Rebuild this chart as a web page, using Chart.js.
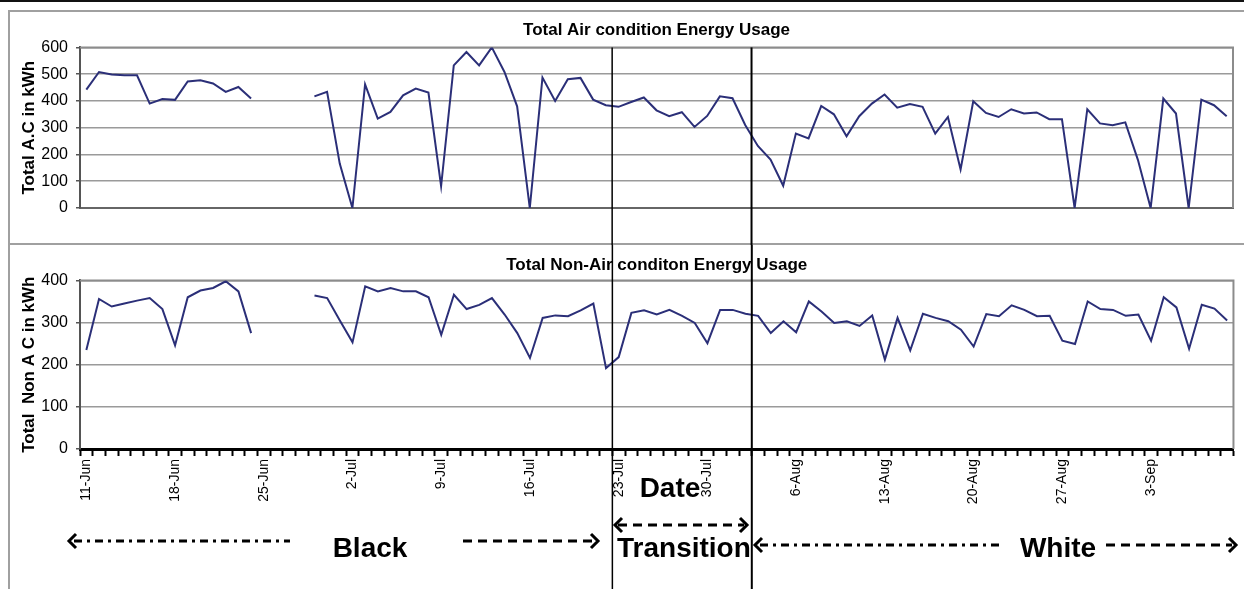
<!DOCTYPE html>
<html lang="en">
<head>
  <meta charset="UTF-8" />
  <title>Total Air condition / Non-Air condition Energy Usage</title>
  <script src="https://cdn.jsdelivr.net/npm/chart.js"></script>
  <style>
    html, body { margin: 0; padding: 0; background: #fff; }
    body { width: 1244px; height: 589px; position: relative; overflow: hidden;
           font-family: "Liberation Sans", Arial, sans-serif; }
    .topline { position: absolute; left: 0; top: 0; width: 1244px; height: 2px; background: #111; }
    .frame { position: absolute; left: 8px; top: 10px; width: 1300px; height: 700px;
             border-left: 2px solid #a0a0a0; border-top: 2px solid #a0a0a0; }
    .sep { position: absolute; left: 8px; top: 243px; width: 1236px; height: 2px; background: #a0a0a0; }
    canvas { position: absolute; left: 9px; }
    #acChart { top: 12px; }
    #nonAcChart { top: 245px; }
    svg.notes { position: absolute; left: 0; top: 0; }
  </style>
</head>
<body>
  <div class="topline"></div>
  <div class="frame"></div>
  <div class="sep"></div>
  <canvas id="acChart" width="1235" height="233"></canvas>
  <canvas id="nonAcChart" width="1238" height="344"></canvas>

  <svg class="notes" width="1244" height="589" font-family="Liberation Sans, Arial, sans-serif">
    <g stroke="#000" stroke-width="3" fill="none">
      <!-- Black -->
      <line x1="74" y1="541" x2="290" y2="541" stroke-dasharray="8 5 3 5" />
      <polyline points="76,534 69,541 76,548" />
      <line x1="463" y1="541" x2="594" y2="541" stroke-dasharray="9 6" />
      <polyline points="591,534 598,541 591,548" />
      <!-- Transition -->
      <line x1="618" y1="525" x2="744" y2="525" stroke-dasharray="9 6" />
      <polyline points="622,518 615,525 622,532" />
      <polyline points="740,518 747,525 740,532" />
      <!-- White -->
      <line x1="760" y1="545" x2="1000" y2="545" stroke-dasharray="8 5 3 5" />
      <polyline points="762,538 755,545 762,552" />
      <line x1="1106" y1="545" x2="1232" y2="545" stroke-dasharray="9 6" />
      <polyline points="1229,538 1236,545 1229,552" />
    </g>
    <g font-size="28" font-weight="bold" fill="#000">
      <text x="670" y="497" text-anchor="middle">Date</text>
      <text x="370" y="557" text-anchor="middle">Black</text>
      <text x="617" y="557">Transition</text>
      <text x="1058" y="557" text-anchor="middle">White</text>
    </g>
  </svg>

  <script>
    // daily categories, 11-Jun .. 9-Sep
    const dates = [
      '11-Jun','12-Jun','13-Jun','14-Jun','15-Jun','16-Jun','17-Jun','18-Jun','19-Jun','20-Jun',
      '21-Jun','22-Jun','23-Jun','24-Jun','25-Jun','26-Jun','27-Jun','28-Jun','29-Jun','30-Jun',
      '1-Jul','2-Jul','3-Jul','4-Jul','5-Jul','6-Jul','7-Jul','8-Jul','9-Jul','10-Jul',
      '11-Jul','12-Jul','13-Jul','14-Jul','15-Jul','16-Jul','17-Jul','18-Jul','19-Jul','20-Jul',
      '21-Jul','22-Jul','23-Jul','24-Jul','25-Jul','26-Jul','27-Jul','28-Jul','29-Jul','30-Jul','31-Jul',
      '1-Aug','2-Aug','3-Aug','4-Aug','5-Aug','6-Aug','7-Aug','8-Aug','9-Aug','10-Aug',
      '11-Aug','12-Aug','13-Aug','14-Aug','15-Aug','16-Aug','17-Aug','18-Aug','19-Aug','20-Aug',
      '21-Aug','22-Aug','23-Aug','24-Aug','25-Aug','26-Aug','27-Aug','28-Aug','29-Aug','30-Aug','31-Aug',
      '1-Sep','2-Sep','3-Sep','4-Sep','5-Sep','6-Sep','7-Sep','8-Sep','9-Sep'
    ];

    const tickDates = ['11-Jun','18-Jun','25-Jun','2-Jul','9-Jul','16-Jul','23-Jul',
                       '30-Jul','6-Aug','13-Aug','20-Aug','27-Aug','3-Sep'];

    // first day of the Transition and White periods
    const phaseStarts = ['23-Jul', '3-Aug'];

    // kWh per day, null = no reading
    const acUsage = [
      442,508,499,496,496,390,407,404,473,477,465,434,452,409,null,null,null,null,417,434,
      166,0,462,334,359,421,446,431,82,533,583,533,600,508,380,0,487,400,481,486,
      405,384,378,396,413,365,343,358,303,344,417,410,310,232,181,83,278,260,381,350,
      268,343,390,424,375,388,378,278,340,144,399,355,340,369,353,357,332,332,0,369,
      316,309,320,179,0,409,353,0,405,384,343
    ];

    const nonAcUsage = [
      235,356,338,345,352,358,332,246,360,376,382,398,374,275,null,null,null,null,364,358,
      305,253,386,374,382,374,374,360,271,366,332,342,358,319,275,216,311,317,315,329,
      345,192,218,323,329,319,330,316,299,251,330,330,321,316,275,303,277,350,326,299,
      303,292,317,212,311,234,321,311,303,283,243,320,315,341,330,315,316,257,249,350,
      332,330,316,319,257,360,336,238,342,333,305
    ];

    Chart.defaults.font.family = '"Liberation Sans", Arial, sans-serif';
    Chart.defaults.color = '#000';

    const lineColor = '#2b2f78';

    // grey frame along top and right of the plot area
    const plotFrame = {
      id: 'plotFrame',
      beforeDatasetsDraw(chart) {
        const { ctx, chartArea: a } = chart;
        ctx.save();
        ctx.strokeStyle = '#8c8c8c';
        ctx.lineWidth = 2;
        ctx.beginPath();
        ctx.moveTo(a.left, a.top);
        ctx.lineTo(a.right, a.top);
        ctx.lineTo(a.right, a.bottom);
        ctx.stroke();
        ctx.restore();
      }
    };

    // black vertical lines at the start of each period
    const phaseLines = {
      id: 'phaseLines',
      afterDraw(chart, args, opts) {
        const { ctx } = chart;
        const xs = chart.scales.x;
        const widths = [1.5, 2];
        ctx.save();
        ctx.strokeStyle = '#000';
        phaseStarts.forEach((d, k) => {
          const i = dates.indexOf(d);
          const x = (xs.getPixelForValue(i - 1) + xs.getPixelForValue(i)) / 2;
          ctx.lineWidth = widths[k];
          ctx.beginPath();
          ctx.moveTo(x, opts.fromTop ? 0 : chart.chartArea.top);
          ctx.lineTo(x, chart.height);
          ctx.stroke();
        });
        ctx.restore();
      }
    };

    function yAxis(max, title) {
      return {
        min: 0,
        max: max,
        ticks: { stepSize: 100, font: { size: 16 }, padding: 8 },
        grid: { color: '#9a9a9a', lineWidth: 1.5, tickLength: 4, tickColor: '#555' },
        border: { color: '#555', width: 2 },
        title: {
          display: true,
          text: title,
          font: { size: 17, weight: 'bold' },
          padding: { top: 10, bottom: 0 }
        },
        afterFit(s) { s.width = 71; }
      };
    }

    function baseOptions(title, titlePad) {
      return {
        responsive: false,
        animation: false,
        devicePixelRatio: 1,
        plugins: {
          legend: { display: false },
          tooltip: { enabled: false },
          title: {
            display: true,
            text: title,
            fullSize: false,
            font: { size: 17, weight: 'bold' },
            padding: titlePad
          }
        }
      };
    }

    // top chart: air conditioning
    const acOpts = baseOptions('Total Air condition Energy Usage', { top: 8, bottom: 7 });
    acOpts.layout = { padding: { left: 0, right: 11, bottom: 29 } };
    acOpts.plugins.phaseLines = { fromTop: false };
    acOpts.scales = {
      x: {
        type: 'category',
        offset: true,
        ticks: { display: false },
        grid: { display: false, offset: true },
        border: { color: '#666', width: 2 }
      },
      y: yAxis(600, 'Total A.C in kWh')
    };

    new Chart(document.getElementById('acChart'), {
      type: 'line',
      data: {
        labels: dates,
        datasets: [{
          label: 'Total A.C',
          data: acUsage,
          borderColor: lineColor,
          borderWidth: 2,
          pointRadius: 0,
          tension: 0,
          spanGaps: false
        }]
      },
      options: acOpts,
      plugins: [plotFrame, phaseLines]
    });

    // bottom chart: non air conditioning
    const nonAcOpts = baseOptions('Total Non-Air conditon Energy Usage', { top: 10, bottom: 5 });
    nonAcOpts.layout = { padding: { left: 0, right: 8, bottom: 0 } };
    nonAcOpts.plugins.phaseLines = { fromTop: true };
    nonAcOpts.scales = {
      x: {
        type: 'category',
        offset: true,
        ticks: {
          autoSkip: false,
          minRotation: 90,
          maxRotation: 90,
          font: { size: 14 },
          padding: 3,
          callback: (v, i) => tickDates.includes(dates[i]) ? dates[i] : ''
        },
        grid: { drawOnChartArea: false, offset: true, tickLength: 7, tickColor: '#000', tickWidth: 2 },
        border: { color: '#000', width: 3 },
        afterFit(s) { s.height = 140; }
      },
      y: yAxis(400, 'Total  Non A C in kWh')
    };

    new Chart(document.getElementById('nonAcChart'), {
      type: 'line',
      data: {
        labels: dates,
        datasets: [{
          label: 'Total Non A C',
          data: nonAcUsage,
          borderColor: lineColor,
          borderWidth: 2,
          pointRadius: 0,
          tension: 0,
          spanGaps: false
        }]
      },
      options: nonAcOpts,
      plugins: [plotFrame, phaseLines]
    });
  </script>
</body>
</html>
